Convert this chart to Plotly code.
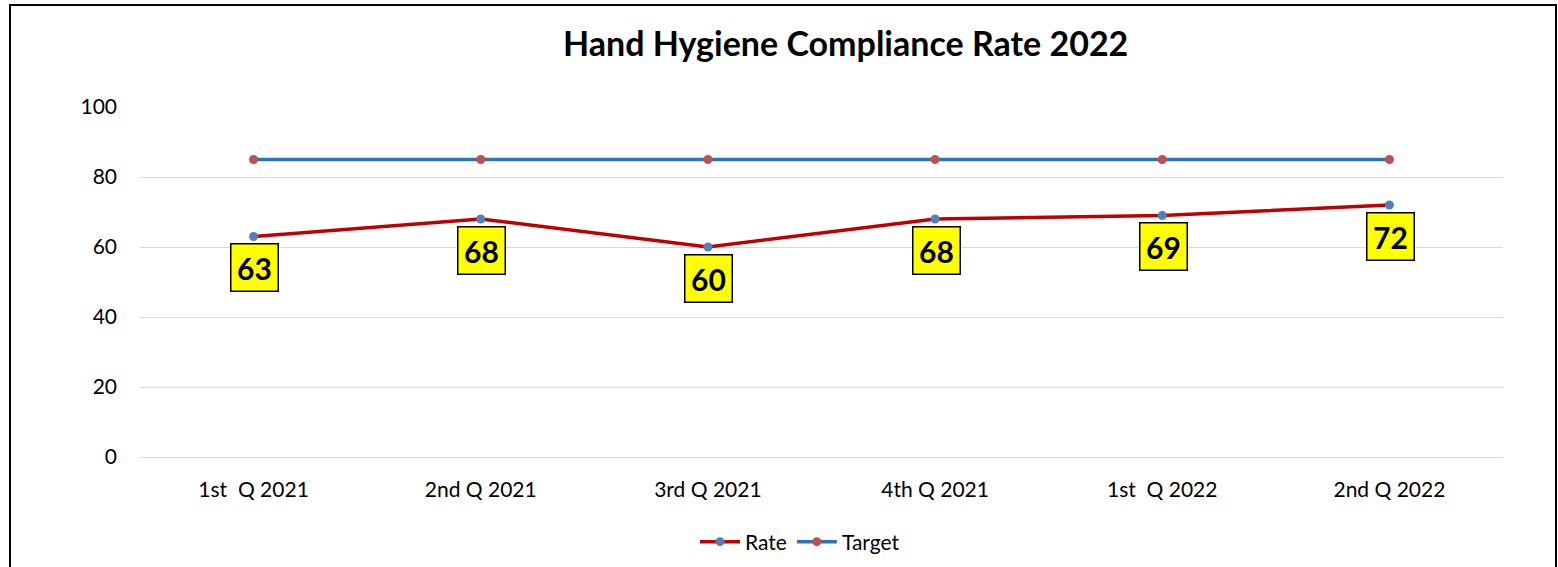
import plotly.graph_objects as go

categories = ["1st  Q 2021", "2nd Q 2021", "3rd Q 2021", "4th Q 2021", "1st  Q 2022", "2nd Q 2022"]
rate = [63, 68, 60, 68, 69, 72]
target = [85, 85, 85, 85, 85, 85]
y_ticks = [0, 20, 40, 60, 80, 100]

W, H = 1558, 567
L, R, T, B = 140, 55, 107, 110
pw, ph = W - L - R, H - T - B

def px(x):
    return (x - L) / pw

def py(y):
    return (H - B - y) / ph

FONT = "Lato, Carlito, Calibri, sans-serif"

fig = go.Figure()
fig.add_trace(go.Scatter(
    x=categories, y=rate, name="Rate", mode="lines+markers",
    line=dict(color="#C00000", width=3.5),
    marker=dict(color="#4F81BD", size=9),
))
fig.add_trace(go.Scatter(
    x=categories, y=target, name="Target", mode="lines+markers",
    line=dict(color="#2E75B6", width=3.5),
    marker=dict(color="#C0504D", size=9),
))

for c, v in zip(categories, rate):
    fig.add_annotation(
        x=c, y=v, text=f"<b>{v}</b>", showarrow=False,
        yshift=-31, xshift=1,
        font=dict(family=FONT, size=30, color="black"),
        bgcolor="#FFFF00", bordercolor="black", borderwidth=1.5,
        borderpad=1, width=44, height=44, align="center", valign="middle",
    )

fig.add_annotation(
    x=px(845), y=py(42), xref="paper", yref="paper",
    text="<b>Hand Hygiene Compliance Rate 2022</b>", showarrow=False,
    font=dict(family=FONT, size=34, color="black"),
    xanchor="center", yanchor="middle",
)

fig.add_shape(
    type="rect", xref="paper", yref="paper",
    x0=px(10), x1=px(1556), y0=py(600), y1=py(5),
    line=dict(color="black", width=2), fillcolor="rgba(0,0,0,0)", layer="above",
)

fig.update_layout(
    width=W, height=H,
    margin=dict(l=L, r=R, t=T, b=B, autoexpand=False),
    paper_bgcolor="white", plot_bgcolor="white",
    font=dict(family=FONT, size=21, color="black"),
    showlegend=True,
    legend=dict(
        orientation="h", x=px(800), y=py(542), xanchor="center", yanchor="middle",
        font=dict(family=FONT, size=21, color="black"), itemwidth=40,
        bgcolor="rgba(0,0,0,0)",
    ),
    xaxis=dict(
        type="category", showgrid=False, zeroline=False, showline=False,
        ticks="", tickfont=dict(size=21), range=[-0.5, 5.5], ticklabelstandoff=18,
    ),
    yaxis=dict(
        range=[0, 100], tickvals=y_ticks, showgrid=True, gridcolor="#D9D9D9",
        gridwidth=1, zeroline=True, zerolinecolor="#D9D9D9", zerolinewidth=1,
        showline=False, ticks="", ticklabelstandoff=22,
        tickfont=dict(size=21),
    ),
)

fig.write_html(
    "out.html",
    config={"displayModeBar": False},
    post_script="document.body.style.margin='0';document.body.style.padding='0';",
)
